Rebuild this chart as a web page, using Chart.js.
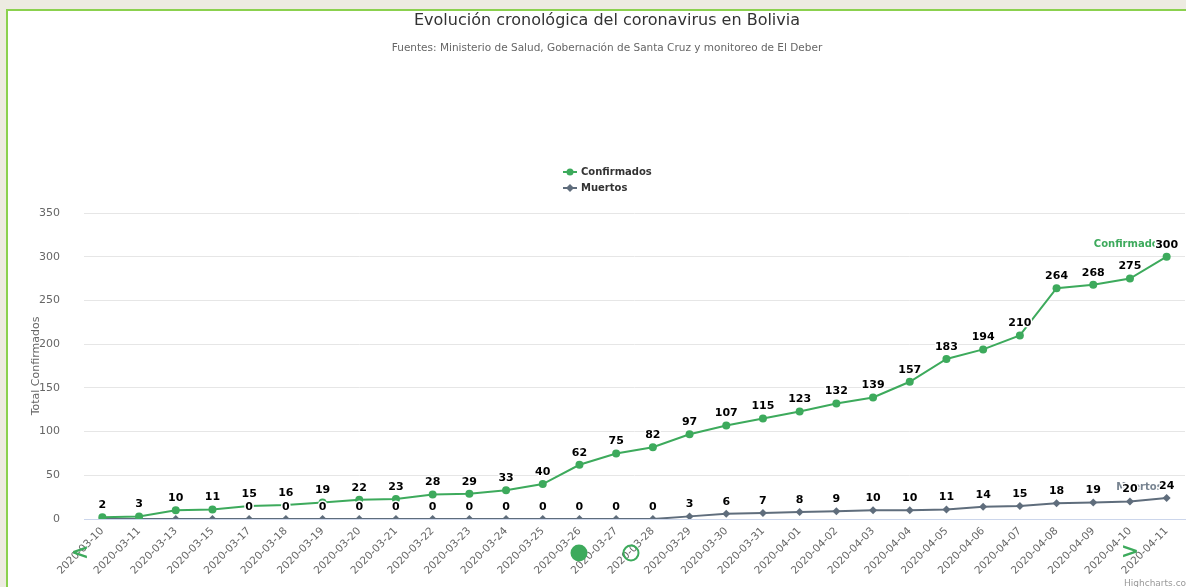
<!DOCTYPE html>
<html>
<head>
<meta charset="utf-8">
<title>Evolución cronológica del coronavirus en Bolivia</title>
<script src="https://cdn.jsdelivr.net/npm/chart.js@4"></script>
<style>
  html, body { margin: 0; padding: 0; background: #edebe1; overflow: hidden; }
  #wrap {
    position: absolute; left: 6px; top: 9px;
    width: 1178px; height: 576px; overflow: hidden;
    border-left: 2px solid #8bd14e; border-top: 2px solid #8bd14e;
    background: #fff;
  }
  canvas { display: block; }
</style>
</head>
<body>
<div id="wrap"><canvas id="chart" width="1181" height="576"></canvas></div>
<script>
// Data
const fechas = [
  "2020-03-10", "2020-03-11", "2020-03-13", "2020-03-15", "2020-03-17", "2020-03-18",
  "2020-03-19", "2020-03-20", "2020-03-21", "2020-03-22", "2020-03-23", "2020-03-24",
  "2020-03-25", "2020-03-26", "2020-03-27", "2020-03-28", "2020-03-29", "2020-03-30",
  "2020-03-31", "2020-04-01", "2020-04-02", "2020-04-03", "2020-04-04", "2020-04-05",
  "2020-04-06", "2020-04-07", "2020-04-08", "2020-04-09", "2020-04-10", "2020-04-11"
];
const confirmados = [2, 3, 10, 11, 15, 16, 19, 22, 23, 28, 29, 33, 40, 62, 75, 82, 97, 107, 115, 123, 132, 139, 157, 183, 194, 210, 264, 268, 275, 300];
const muertos = [0, 0, 0, 0, 0, 0, 0, 0, 0, 0, 0, 0, 0, 0, 0, 0, 3, 6, 7, 8, 9, 10, 10, 11, 14, 15, 18, 19, 20, 24];

const VERDE = '#3daa5c';
const GRIS = '#5f6d7c';
const FONT = '"DejaVu Sans", Verdana, sans-serif';

// titles, legend, point labels and the little overlay bits
const decoPlugin = {
  id: 'deco',
  afterDatasetsDraw(chart) {
    const ctx = chart.ctx;
    ctx.save();

    // series name labels near the end of each line
    const lastC = chart.getDatasetMeta(0).data[confirmados.length - 1];
    const lastM = chart.getDatasetMeta(1).data[muertos.length - 1];
    ctx.font = 'bold 10px ' + FONT;
    ctx.textAlign = 'right';
    ctx.textBaseline = 'middle';
    ctx.fillStyle = VERDE;
    ctx.fillText('Confirmados', lastC.x - 2, lastC.y - 12);
    ctx.fillStyle = 'rgba(95,109,124,0.85)';
    ctx.fillText('Muertos', lastM.x - 4, lastM.y - 11);

    // data labels
    ctx.font = 'bold 11px ' + FONT;
    ctx.textAlign = 'center';
    ctx.lineJoin = 'round';
    const metaC = chart.getDatasetMeta(0).data;
    chart.data.datasets.forEach((ds, i) => {
      chart.getDatasetMeta(i).data.forEach((pt, j) => {
        if (i === 1 && Math.abs(metaC[j].y - pt.y) < 12) return; // overlapped, hidden
        const txt = String(ds.data[j]);
        ctx.lineWidth = 3;
        ctx.strokeStyle = '#fff';
        ctx.strokeText(txt, pt.x, pt.y - 12);
        ctx.fillStyle = '#000';
        ctx.fillText(txt, pt.x, pt.y - 12);
      });
    });
    ctx.restore();
  },
  afterDraw(chart) {
    const ctx = chart.ctx;
    ctx.save();
    ctx.textAlign = 'center';
    ctx.textBaseline = 'middle';
    ctx.fillStyle = '#333';
    ctx.font = '16px ' + FONT;
    ctx.fillText('Evolución cronológica del coronavirus en Bolivia', 599, 10);
    ctx.fillStyle = '#666';
    ctx.font = '10.5px ' + FONT;
    ctx.fillText('Fuentes: Ministerio de Salud, Gobernación de Santa Cruz y monitoreo de El Deber', 599, 37);

    // legend (vertical)
    const items = [
      { text: 'Confirmados', color: VERDE, diamond: false },
      { text: 'Muertos', color: GRIS, diamond: true }
    ];
    ctx.font = 'bold 10px ' + FONT;
    ctx.textAlign = 'left';
    items.forEach((it, k) => {
      const y = 161 + k * 16;
      ctx.strokeStyle = it.color;
      ctx.lineWidth = 2;
      ctx.beginPath(); ctx.moveTo(555, y); ctx.lineTo(569, y); ctx.stroke();
      ctx.fillStyle = it.color;
      ctx.beginPath();
      if (it.diamond) {
        ctx.moveTo(562, y - 4); ctx.lineTo(566, y); ctx.lineTo(562, y + 4); ctx.lineTo(558, y);
        ctx.closePath();
      } else {
        ctx.arc(562, y, 3.5, 0, Math.PI * 2);
      }
      ctx.fill();
      ctx.fillStyle = '#333';
      ctx.fillText(it.text, 573, y + 0.5);
    });

    // carousel controls overlay
    ctx.fillStyle = VERDE;
    ctx.font = 'bold 22px ' + FONT;
    ctx.textAlign = 'center';
    ctx.fillText('<', 72, 542);
    ctx.fillText('>', 1122, 541);
    ctx.beginPath(); ctx.arc(571, 542, 8.5, 0, Math.PI * 2); ctx.fill();
    ctx.strokeStyle = VERDE;
    ctx.lineWidth = 2;
    ctx.beginPath(); ctx.arc(623, 542, 7.5, 0, Math.PI * 2); ctx.stroke();

    // credits
    ctx.fillStyle = '#999';
    ctx.font = '9px ' + FONT;
    ctx.textAlign = 'left';
    ctx.textBaseline = 'alphabetic';
    ctx.fillText('Highcharts.com', 1116, 575);
    ctx.restore();
  }
};

new Chart(document.getElementById('chart'), {
  type: 'line',
  data: {
    labels: fechas,
    datasets: [
      {
        label: 'Confirmados',
        data: confirmados,
        borderColor: VERDE,
        backgroundColor: VERDE,
        borderWidth: 2,
        pointRadius: 4,
        pointStyle: 'circle',
        pointBorderWidth: 0,
        tension: 0
      },
      {
        label: 'Muertos',
        data: muertos,
        borderColor: GRIS,
        backgroundColor: GRIS,
        borderWidth: 2,
        pointRadius: 4,
        pointStyle: 'rectRot',
        pointBorderWidth: 0,
        tension: 0
      }
    ]
  },
  options: {
    responsive: false,
    animation: false,
    layout: { padding: { top: 202, right: 0, left: 0, bottom: 0 } },
    plugins: {
      legend: { display: false },
      title: { display: false },
      tooltip: { enabled: false }
    },
    scales: {
      x: {
        offset: true,
        grid: { display: false, drawTicks: false },
        border: { color: '#ccd6eb', width: 1 },
        ticks: {
          autoSkip: false, maxRotation: 45, minRotation: 45,
          color: '#666', font: { family: FONT, size: 10.5 }, padding: 6
        },
        afterFit(s) { s.height = 68; }
      },
      y: {
        min: 0, max: 350,
        ticks: { stepSize: 50, color: '#666', font: { family: FONT, size: 11 }, padding: 24 },
        grid: { color: '#e6e6e6', drawTicks: false },
        border: { display: false },
        title: {
          display: true, text: 'Total Confirmados', color: '#666',
          font: { family: FONT, size: 11 }, padding: { top: 22, bottom: 0 }
        },
        afterFit(s) { s.width = 76; }
      }
    }
  },
  plugins: [decoPlugin]
});
</script>
</body>
</html>
